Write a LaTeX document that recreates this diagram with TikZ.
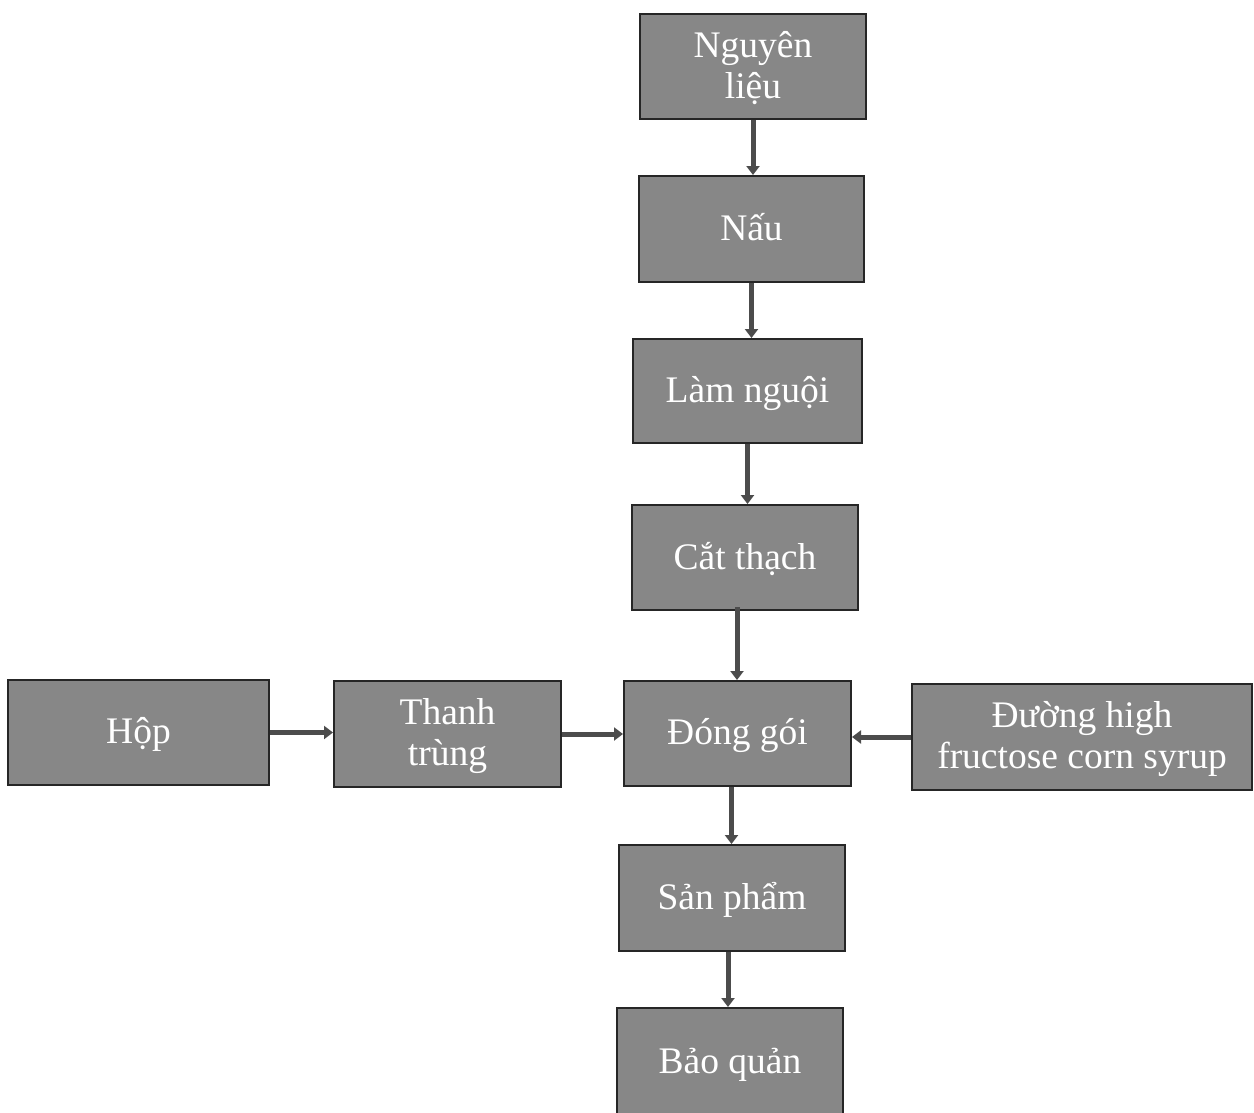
\documentclass[tikz,border=0pt]{standalone}
\usepackage{fontspec}
\setmainfont{Liberation Serif}
\usetikzlibrary{arrows.meta}
\begin{document}
\begin{tikzpicture}[x=1pt,y=-1pt,
  box/.style={draw=black!85, line width=2pt, fill=black!47, text=white,
    font=\fontsize{37.5}{41}\selectfont, align=center, inner sep=0pt,
    text depth=4pt},
  flow/.style={draw=black!70, line width=5pt,
    -{Triangle[width=13pt,length=9pt]}}]
\useasboundingbox (0,0) rectangle (1254,1112);
\fill[white] (0,0) rectangle (1254,1112);
\node[box, minimum width=226pt, minimum height=105pt] (nl) at (753,66.5) {Nguyên\\liệu};
\node[box, minimum width=225pt, minimum height=106pt] (nau) at (751.5,229) {Nấu};
\node[box, minimum width=229pt, minimum height=104pt] (lam) at (747.5,391) {Làm nguội};
\node[box, minimum width=226pt, minimum height=105pt] (cat) at (745,557.5) {Cắt thạch};
\node[box, minimum width=227pt, minimum height=105pt] (dong) at (737.5,733.5) {Đóng gói};
\node[box, minimum width=261pt, minimum height=105pt] (hop) at (138.5,732.5) {Hộp};
\node[box, minimum width=227pt, minimum height=106pt] (thanh) at (447.5,734) {Thanh\\trùng};
\node[box, minimum width=340pt, minimum height=106pt] (duong) at (1082,737) {Đường high\\fructose corn syrup};
\node[box, minimum width=226pt, minimum height=106pt] (sp) at (732,898) {Sản phẩm};
\node[box, minimum width=226pt, minimum height=110pt] (bq) at (730,1063) {Bảo quản};
\draw[flow] (nl.south) -- (nl.south |- nau.north);
\draw[flow] (nau.south) -- (nau.south |- lam.north);
\draw[flow] (lam.south) -- (lam.south |- cat.north);
\draw[flow] ([xshift=-8pt,yshift=4pt]cat.south) -- ([xshift=-8pt]cat.south |- dong.north);
\draw[flow] ([xshift=-6pt]dong.south) -- ([xshift=-6pt]dong.south |- sp.north);
\draw[flow] ([xshift=-4pt]sp.south) -- ([xshift=-4pt]sp.south |- bq.north);
\draw[flow] (hop.east) -- (hop.east -| thanh.west);
\draw[flow] (thanh.east) -- (thanh.east -| dong.west);
\draw[flow] (duong.west) -- (duong.west -| dong.east);
\end{tikzpicture}
\end{document}
